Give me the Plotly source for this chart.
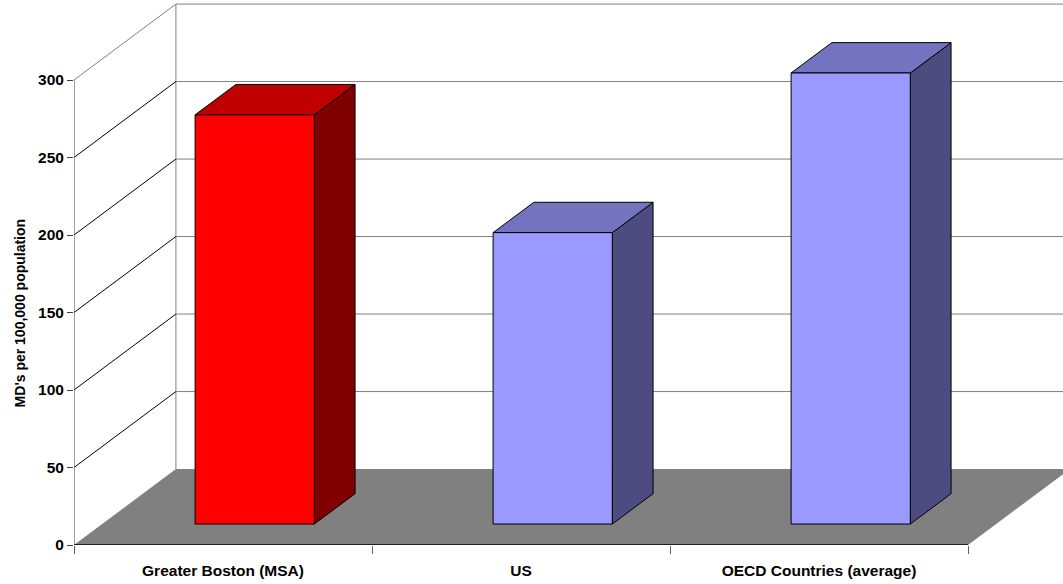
import plotly.graph_objects as go

# data
categories = ["Greater Boston (MSA)", "US", "OECD Countries (average)"]
md_per_100k = [264, 188, 291]
y_ticks = [0, 50, 100, 150, 200, 250, 300]

# 3d look (Excel style oblique projection)
DX = 0.342   # depth shift along x, in category units
DV = 49.0    # depth shift along y, in value units
BAR_W = 0.40
BAR_C = 0.512
Z_FRONT, Z_BACK = 0.276, 0.676

face_colors = [
    ("#FF0000", "#C00000", "#800000"),
    ("#9999FF", "#7373BF", "#4C4C80"),
    ("#9999FF", "#7373BF", "#4C4C80"),
]

FONT = "Arial, Liberation Sans, sans-serif"


def proj(x, v, z):
    return x + z * DX, v + z * DV


def poly(pts, fill, line="black", width=1):
    xs, ys = zip(*(proj(*p) for p in pts))
    return go.Scatter(x=list(xs) + [xs[0]], y=list(ys) + [ys[0]], mode="lines",
                      fill="toself", fillcolor=fill,
                      line=dict(color=line, width=width),
                      hoverinfo="skip", showlegend=False)


def seg(p1, p2, color, width=1):
    a, b = proj(*p1), proj(*p2)
    return go.Scatter(x=[a[0], b[0]], y=[a[1], b[1]], mode="lines",
                      line=dict(color=color, width=width),
                      hoverinfo="skip", showlegend=False)


fig = go.Figure()
n = len(categories)

# back wall
for v in y_ticks[1:]:
    fig.add_trace(seg((0, v, 1), (n + 0.5, v, 1), "#808080"))
fig.add_trace(seg((0, 0, 1), (0, y_ticks[-1], 1), "#808080"))

# side wall diagonals
for v in y_ticks[1:]:
    col = "#808080" if v == y_ticks[-1] else "black"
    fig.add_trace(seg((0, v, 0), (0, v, 1), col))

# floor
fig.add_trace(poly([(0, 0, 0), (n, 0, 0), (n, 0, 1), (0, 0, 1)], "#808080", line="#808080", width=0))

# bars
for i, val in enumerate(md_per_100k):
    front, top, side = face_colors[i]
    x0, x1 = i + BAR_C - BAR_W / 2, i + BAR_C + BAR_W / 2
    fig.add_trace(poly([(x1, 0, Z_FRONT), (x1, val, Z_FRONT), (x1, val, Z_BACK), (x1, 0, Z_BACK)], side))
    fig.add_trace(poly([(x0, val, Z_FRONT), (x1, val, Z_FRONT), (x1, val, Z_BACK), (x0, val, Z_BACK)], top))
    fig.add_trace(poly([(x0, 0, Z_FRONT), (x1, 0, Z_FRONT), (x1, val, Z_FRONT), (x0, val, Z_FRONT)], front))

# axis lines
fig.add_trace(seg((0, 0, 0), (0, y_ticks[-1], 0), "#404040"))
fig.add_trace(seg((0, 0, 0), (n, 0, 0), "black", 1.5))

fig.update_layout(
    width=1063, height=584,
    margin=dict(l=74, r=0, t=0, b=39),
    plot_bgcolor="white", paper_bgcolor="white",
    font=dict(family=FONT, color="black"),
    xaxis=dict(
        range=[0, 989 / 298], showgrid=False, zeroline=False, showline=False,
        tickvals=[i + 0.5 for i in range(n)], ticktext=categories,
        ticks="", ticklabelstandoff=14,
        tickfont=dict(size=15.5, weight="bold"),
        minor=dict(tickvals=list(range(n + 1)), ticks="outside", ticklen=8,
                   tickcolor="#606060", showgrid=False),
    ),
    yaxis=dict(
        range=[0, 545 / 1.55], showgrid=False, zeroline=False, showline=False,
        tickvals=y_ticks, ticks="outside", ticklen=6, tickcolor="#404040",
        tickfont=dict(size=15.5, weight="bold"),
    ),
)

# y title sits lower than the plot centre, like the original
fig.add_annotation(text="MD's per 100,000 population", textangle=-90,
                   xref="paper", yref="paper", x=-0.0546, y=0.425,
                   xanchor="center", yanchor="middle", showarrow=False,
                   font=dict(size=14, weight="bold"))

# drop the default page margin so the figure sits at the window corner
fig.write_html("out.html", config={"displayModeBar": False},
               post_script="document.body.style.margin='0';")
